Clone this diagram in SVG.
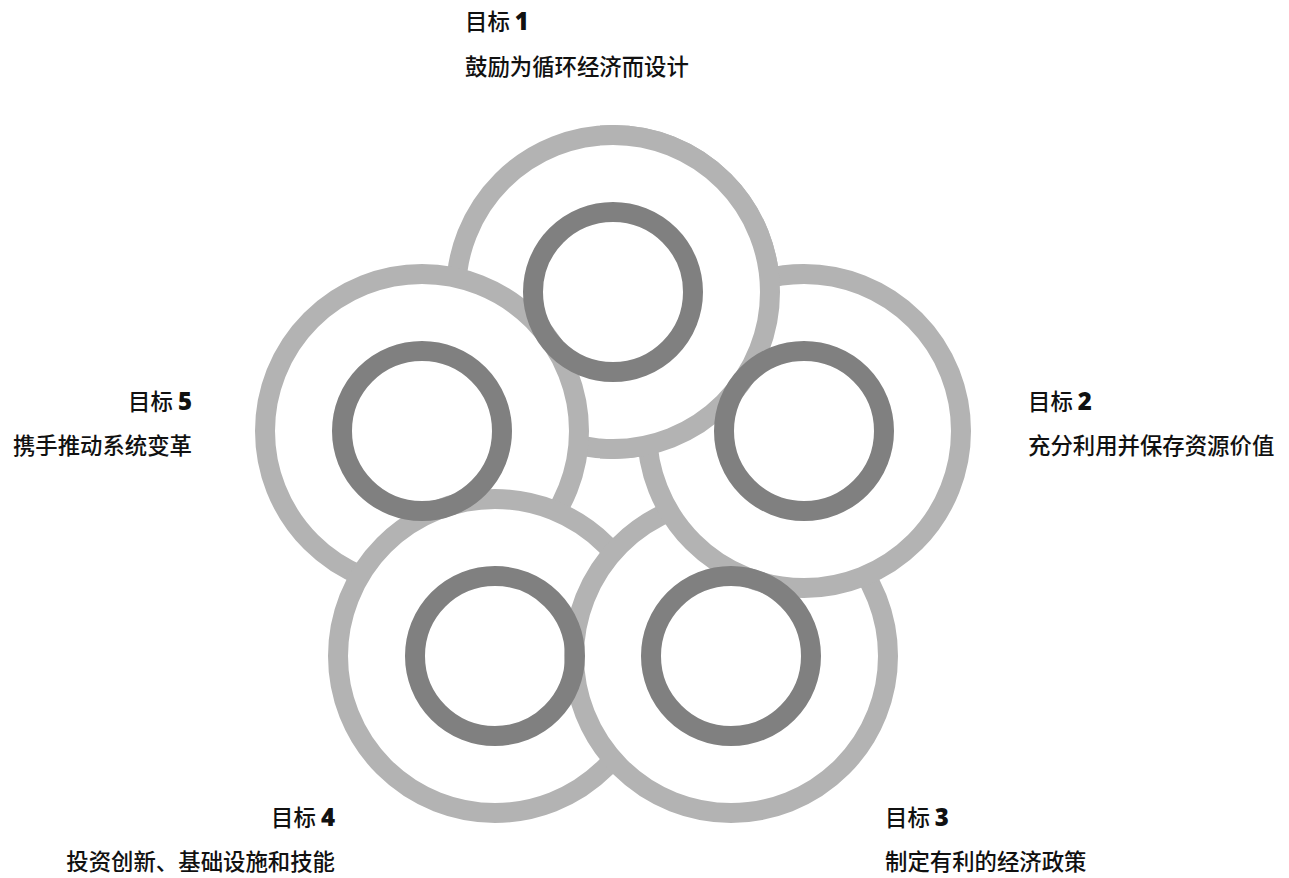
<svg xmlns="http://www.w3.org/2000/svg" xmlns:xlink="http://www.w3.org/1999/xlink" width="1289" height="878" viewBox="0 0 1289 878">
<style>
.outer{fill:#ffffff;stroke:#b3b3b3;stroke-width:20}
.inner{fill:none;stroke:#808080;stroke-width:20}
.t{font-family:"Noto Sans CJK SC","Noto Sans",sans-serif;font-size:22.4px;font-weight:500;fill:#111111}
.n{font-family:"Open Sans","Liberation Sans",sans-serif;font-weight:800;font-size:24px}
.e{text-anchor:end}
</style>
<defs>
<clipPath id="clipRight"><rect x="600" y="0" width="689" height="878"/></clipPath>
</defs>
<rect width="1289" height="878" fill="#ffffff"/>
<g id="outer-rings">
<circle id="outer1" class="outer" cx="613" cy="292" r="157"/>
<circle id="outer5" class="outer" cx="422" cy="431" r="157"/>
<circle id="outer4" class="outer" cx="495" cy="656" r="157"/>
<circle id="outer3" class="outer" cx="731" cy="656" r="157"/>
<circle id="outer2" class="outer" cx="804" cy="431" r="157"/>
<use xlink:href="#outer1" href="#outer1" clip-path="url(#clipRight)"/>
</g>
<g id="connectors"></g>
<g id="goal1">
<circle class="inner" cx="613" cy="292" r="80"/>
<text class="t" x="465" y="30">目标 <tspan class="n">1</tspan></text>
<text class="t" x="465" y="75">鼓励为循环经济而设计</text>
</g>
<g id="goal2">
<circle class="inner" cx="804" cy="431" r="80"/>
<text class="t" x="1028" y="410">目标 <tspan class="n">2</tspan></text>
<text class="t" x="1028" y="454">充分利用并保存资源价值</text>
</g>
<g id="goal3">
<circle class="inner" cx="731" cy="656" r="80"/>
<text class="t" x="885" y="826">目标 <tspan class="n">3</tspan></text>
<text class="t" x="885" y="870">制定有利的经济政策</text>
</g>
<g id="goal4">
<circle class="inner" cx="495" cy="656" r="80"/>
<text class="t e" x="335" y="826">目标 <tspan class="n">4</tspan></text>
<text class="t e" x="335" y="870">投资创新、基础设施和技能</text>
</g>
<g id="goal5">
<circle class="inner" cx="422" cy="431" r="80"/>
<text class="t e" x="192" y="410">目标 <tspan class="n">5</tspan></text>
<text class="t e" x="192" y="454">携手推动系统变革</text>
</g>
</svg>
